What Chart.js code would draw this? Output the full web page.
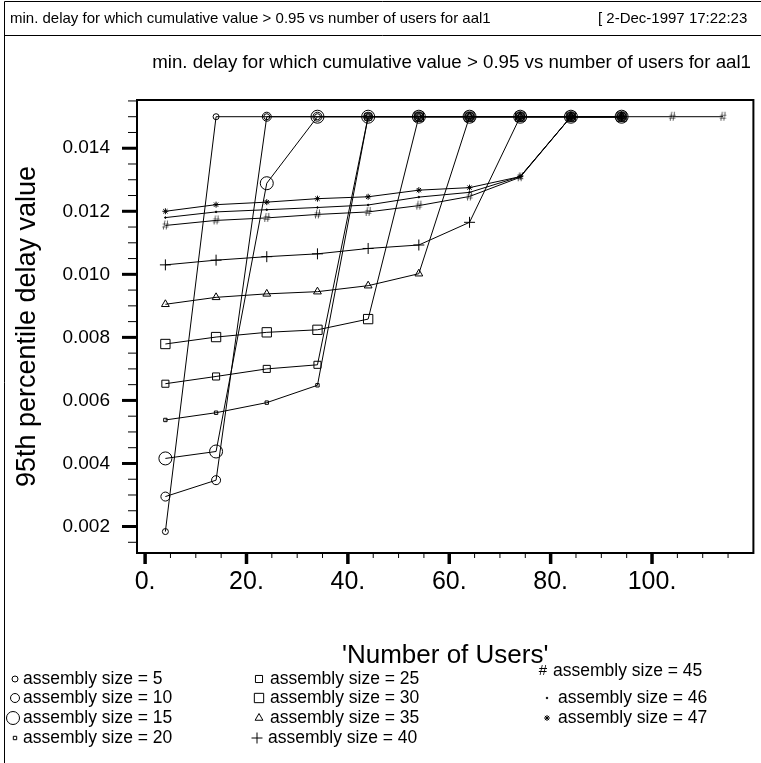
<!DOCTYPE html>
<html>
<head>
<meta charset="utf-8">
<script src="https://cdn.jsdelivr.net/npm/chart.js@4"></script>
<style>
  html, body { margin: 0; padding: 0; background: #fff; }
  #wrap { width: 761px; height: 763px; }
</style>
</head>
<body>
<div id="wrap"><canvas id="delayChart" width="761" height="763"></canvas></div>
<script>
// number of users on the x axis
const users = [4, 14, 24, 34, 44, 54, 64, 74, 84, 94, 104, 114];

// 95th percentile delay per assembly size
const size5  = [0.00184, 0.015, 0.015, 0.015, 0.015, 0.015, 0.015, 0.015, 0.015, 0.015];
const size10 = [0.00295, 0.00347, 0.015, 0.015, 0.015, 0.015, 0.015, 0.015, 0.015, 0.015];
const size15 = [0.00416, 0.00438, 0.01289, 0.015, 0.015, 0.015, 0.015, 0.015, 0.015, 0.015];
const size20 = [0.00538, 0.00561, 0.00593, 0.00648, 0.015, 0.015, 0.015, 0.015, 0.015, 0.015];
const size25 = [0.00653, 0.00676, 0.00700, 0.00713, 0.015, 0.015, 0.015, 0.015, 0.015, 0.015];
const size30 = [0.00779, 0.00801, 0.00816, 0.00824, 0.00858, 0.015, 0.015, 0.015, 0.015, 0.015];
const size35 = [0.00905, 0.00927, 0.00938, 0.00945, 0.00964, 0.01002, 0.015, 0.015, 0.015, 0.015];
const size40 = [0.01030, 0.01045, 0.01056, 0.01065, 0.01082, 0.01093, 0.01165, 0.015, 0.015, 0.015];
const size45 = [0.01155, 0.01171, 0.01179, 0.01190, 0.01198, 0.01218, 0.01247, 0.01308, 0.015, 0.015, 0.015, 0.015];
const size46 = [0.01180, 0.01198, 0.01205, 0.01212, 0.01220, 0.01245, 0.01260, 0.01310, 0.015, 0.015];
const size47 = [0.01200, 0.01221, 0.01229, 0.01240, 0.01246, 0.01267, 0.01275, 0.01310, 0.015, 0.015];

// axis ticks
const xMajorTicks = [0, 20, 40, 60, 80, 100];
const yMajorTicks = [0.002, 0.004, 0.006, 0.008, 0.010, 0.012, 0.014];

const headerText = 'min. delay for which cumulative value > 0.95 vs number of users for aal1';
const stampText = '[ 2-Dec-1997 17:22:23';
const FONT = '"Liberation Sans", Arial, Helvetica, sans-serif';

// '#' marker drawn on a small canvas
function hashMarker() {
    const c = document.createElement('canvas');
    c.width = 11; c.height = 12;
    const g = c.getContext('2d');
    g.fillStyle = '#000';
    g.font = '12px ' + FONT;
    g.textAlign = 'center';
    g.textBaseline = 'middle';
    g.fillText('#', 5.5, 6.5);
    return c;
}
const hash = hashMarker();

const series = [
    { label: 'assembly size = 5',  data: size5,  style: 'circle', radius: 3 },
    { label: 'assembly size = 10', data: size10, style: 'circle', radius: 4.5 },
    { label: 'assembly size = 15', data: size15, style: 'circle', radius: 6.5 },
    { label: 'assembly size = 20', data: size20, style: 'rect', radius: 2.4 },
    { label: 'assembly size = 25', data: size25, style: 'rect', radius: 5 },
    { label: 'assembly size = 30', data: size30, style: 'rect', radius: 6.6 },
    { label: 'assembly size = 35', data: size35, style: 'triangle', radius: 4.5 },
    { label: 'assembly size = 40', data: size40, style: 'cross', radius: 5.5 },
    { label: 'assembly size = 45', data: size45, style: hash, radius: 5 },
    { label: 'assembly size = 46', data: size46, style: 'circle', radius: 0.8 },
    { label: 'assembly size = 47', data: size47, style: 'star', radius: 3 }
];

const datasets = series.map(s => ({
    label: s.label,
    data: s.data.map((v, i) => ({ x: users[i], y: v })),
    borderColor: '#000',
    borderWidth: 1,
    backgroundColor: s.radius < 1 ? '#000' : 'rgba(0,0,0,0)',
    pointStyle: s.style,
    pointRadius: s.radius,
    pointBorderWidth: 1,
    pointBorderColor: '#000',
    pointBackgroundColor: s.radius < 1 ? '#000' : 'rgba(0,0,0,0)',
    pointHoverRadius: s.radius,
    tension: 0
}));

// legend layout: [marker x, row y, text x] for each series
const legendPos = [
    [15, 679, 23], [15, 698, 23], [13, 718, 23], [15, 738, 23],
    [259, 679, 270], [259, 698, 270], [259, 718, 270], [257, 738, 268],
    [543, 671, 553], [547, 698, 558], [547, 718, 558]
];

function isStep(v, step) {
    return Math.abs(v / step - Math.round(v / step)) < 1e-6;
}

const framePlugin = {
    id: 'framePlugin',
    afterDraw(chart) {
        const ctx = chart.ctx;
        const area = chart.chartArea;
        const xs = chart.scales.x;
        const ys = chart.scales.y;
        ctx.save();

        // page border and header box
        ctx.strokeStyle = '#000';
        ctx.lineWidth = 1;
        ctx.beginPath();
        ctx.moveTo(4.5, 763); ctx.lineTo(4.5, 1.5); ctx.lineTo(761, 1.5);
        ctx.moveTo(4.5, 35.5); ctx.lineTo(761, 35.5);
        ctx.stroke();

        ctx.fillStyle = '#000';
        ctx.textBaseline = 'middle';
        ctx.font = '15px ' + FONT;
        ctx.textAlign = 'left';
        ctx.fillText(headerText, 10, 19);
        ctx.fillText(stampText, 598, 19);

        ctx.font = '18.7px ' + FONT;
        ctx.textAlign = 'right';
        ctx.fillText(headerText, 751, 63);

        // plot frame
        ctx.lineWidth = 2;
        ctx.strokeRect(area.left, area.top, area.right - area.left, area.bottom - area.top);

        // y ticks (outside, major thick)
        ys.ticks.forEach(t => {
            const y = ys.getPixelForValue(t.value);
            const major = isStep(t.value, 0.002);
            ctx.lineWidth = major ? 3 : 1;
            ctx.beginPath();
            ctx.moveTo(area.left, y);
            ctx.lineTo(area.left - (major ? 15 : 9), y);
            ctx.stroke();
        });
        // x ticks
        xs.ticks.forEach(t => {
            const x = xs.getPixelForValue(t.value);
            const major = isStep(t.value, 20);
            ctx.lineWidth = major ? 3.5 : 1;
            ctx.beginPath();
            ctx.moveTo(x, area.bottom);
            ctx.lineTo(x, area.bottom + (major ? 11 : 5));
            ctx.stroke();
        });

        // legend
        ctx.textAlign = 'left';
        ctx.lineWidth = 1;
        series.forEach((s, i) => {
            const [lx, ly, tx] = legendPos[i];
            ctx.strokeStyle = '#000';
            if (s.style === hash) {
                ctx.fillStyle = '#000';
                ctx.font = '15px ' + FONT;
                ctx.textAlign = 'center';
                ctx.fillText('#', lx, ly);
                ctx.textAlign = 'left';
            } else {
                ctx.fillStyle = s.radius < 1 ? '#000' : 'rgba(0,0,0,0)';
                Chart.helpers.drawPoint(ctx, { pointStyle: s.style, radius: s.radius, rotation: 0, borderWidth: 1 }, lx, ly);
            }
            ctx.fillStyle = '#000';
            ctx.font = '17.5px ' + FONT;
            ctx.fillText(s.label, tx, ly);
        });
        ctx.restore();
    }
};

const ctx = document.getElementById('delayChart').getContext('2d');
const chart = new Chart(ctx, {
    type: 'line',
    data: { datasets: datasets },
    options: {
        responsive: false,
        animation: false,
        events: [],
        layout: { padding: { left: 5, top: 100, right: 7, bottom: 85 } },
        plugins: {
            legend: { display: false },
            tooltip: { enabled: false },
            title: { display: false }
        },
        scales: {
            x: {
                type: 'linear',
                min: -1.6,
                max: 120,
                grid: { display: false, drawTicks: false },
                border: { display: false },
                afterBuildTicks: scale => {
                    const ticks = [];
                    for (let v = 0; v <= 115; v += 5) ticks.push({ value: v });
                    scale.ticks = ticks;
                },
                afterFit: scale => { scale.height = 125; },
                ticks: {
                    autoSkip: false,
                    maxRotation: 0,
                    padding: 14,
                    color: '#000',
                    font: { family: FONT, size: 25 },
                    callback: v => xMajorTicks.includes(v) ? v + '.' : ''
                },
                title: {
                    display: true,
                    text: "'Number of Users'",
                    color: '#000',
                    font: { family: FONT, size: 26 },
                    padding: { top: 0, bottom: 7 }
                }
            },
            y: {
                type: 'linear',
                min: 0.00116,
                max: 0.01553,
                grid: { display: false, drawTicks: false },
                border: { display: false },
                afterBuildTicks: scale => {
                    const ticks = [];
                    for (let k = 3; k <= 31; k++) ticks.push({ value: k * 0.0005 });
                    scale.ticks = ticks;
                },
                afterFit: scale => { scale.width = 132; },
                ticks: {
                    autoSkip: false,
                    padding: 27,
                    color: '#000',
                    font: { family: FONT, size: 19 },
                    callback: v => isStep(v, 0.002) ? v.toFixed(3) : ''
                },
                title: {
                    display: true,
                    text: '95th percentile delay value',
                    color: '#000',
                    font: { family: FONT, size: 27 },
                    padding: { top: 6, bottom: 0 }
                }
            }
        }
    },
    plugins: [framePlugin]
});
</script>
</body>
</html>
